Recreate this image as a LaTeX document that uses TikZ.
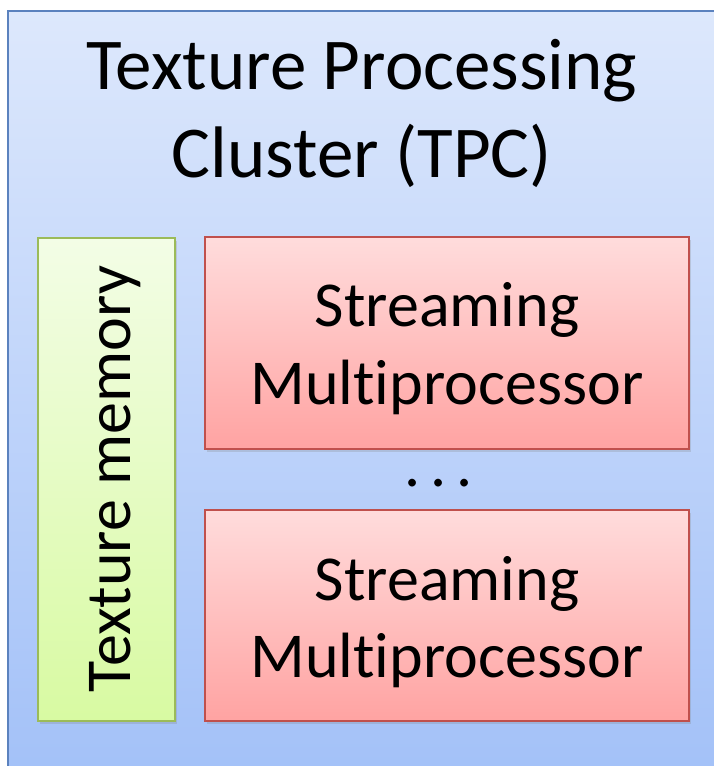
\documentclass[tikz,border=0pt]{standalone}
\usepackage{fontspec}
\setmainfont{Carlito}[Ligatures=CommonOff]
\usetikzlibrary{shadows}
\definecolor{tpcborder}{HTML}{5B82BE}
\definecolor{tpctop}{HTML}{DDE8FC}
\definecolor{tpcbot}{HTML}{A3C1F8}
\definecolor{smborder}{HTML}{C0504D}
\definecolor{smtop}{HTML}{FFDCDC}
\definecolor{smbot}{HTML}{FFA3A2}
\definecolor{texborder}{HTML}{9BBB59}
\definecolor{textop}{HTML}{F3FDE6}
\definecolor{texbot}{HTML}{D8FAA2}
\tikzset{
  x=1pt, y=1pt,
  panel/.style={draw=tpcborder, line width=1.5pt, top color=tpctop, bottom color=tpcbot},
  smbox/.style={draw=smborder, line width=1.5pt, top color=smtop, bottom color=smbot,
    drop shadow={shadow xshift=2pt, shadow yshift=-3pt, opacity=0.25}},
  texbox/.style={draw=texborder, line width=1.5pt, top color=textop, bottom color=texbot,
    drop shadow={shadow xshift=2pt, shadow yshift=-3pt, opacity=0.25}},
  boxtext/.style={font=\fontsize{64}{78}\selectfont, align=center, text=black, anchor=base, inner sep=0pt},
}
\begin{document}
\begin{tikzpicture}
\useasboundingbox (0,0) rectangle (714,766);
\clip (0,0) rectangle (714,766);
% outer cluster panel, running past the right and bottom edges
\path[panel] (8,-10) rectangle (724,755);
\node[font=\fontsize{73}{88}\selectfont, align=center, anchor=base, inner sep=0pt] (title)
  at (362,588) {Texture Processing\\Cluster (TPC)};
% texture memory column
\path[texbox] (38,45) rectangle (175,528);
\node[boxtext, rotate=90] (texlabel) at (130,287) {Texture memory};
% streaming multiprocessors
\path[smbox] (205,317) rectangle (689,529);
\node[boxtext] (sm1) at (447,361) {Streaming\\Multiprocessor};
\node[boxtext] (dots) at (439,279) {.\hspace{10pt}.\hspace{10pt}.};
\path[smbox] (205,45) rectangle (689,256);
\node[boxtext] (sm2) at (447,88) {Streaming\\Multiprocessor};
\end{tikzpicture}
\end{document}
